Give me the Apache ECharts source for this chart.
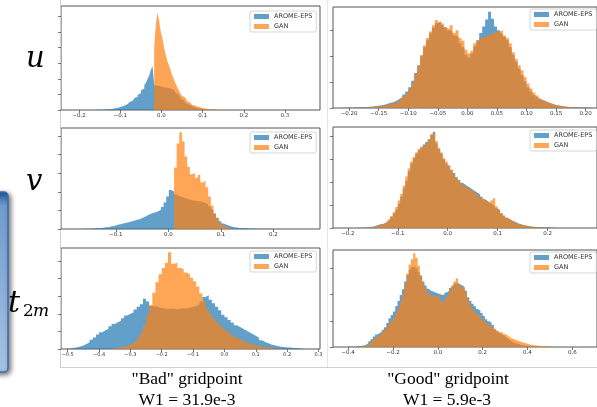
<!DOCTYPE html>
<html>
<head>
<meta charset="utf-8">
<script src="https://cdn.jsdelivr.net/npm/echarts@6/dist/echarts.min.js"></script>
<style>
  html, body { margin: 0; padding: 0; background: #fff; }
  #chart { width: 597px; height: 407px; }
</style>
</head>
<body>
<div id="chart"></div>
<script>
// histogram bins: first bin left edge, bin width, heights (in y-tick units)
// u, "bad" gridpoint
const uBadStart = -0.1615, uBadWidth = 0.004;
const uBadArome = [
  0.02,0.02,0.03,0.02,0.03,0.04,0.03,0.05,0.05,0.06,0.08,0.09,
  0.12,0.15,0.18,0.21,0.24,0.29,0.33,0.39,0.45,0.52,0.6,0.7,
  0.77,0.85,0.98,1.08,1.26,1.38,1.6,1.74,2.0,2.22,2.58,2.8,
  1.62,1.55,1.5,1.52,1.48,1.45,1.47,1.43,1.42,1.38,1.36,1.3,
  1.22,1.1,0.98,0.86,0.74,0.62,0.52,0.43,0.36,0.29,0.24,0.2,
  0.16,0.13,0.11,0.09,0.08,0.06,0.05,0.05,0.04,0.03,0.03,0.03,0.02,0.02,0.02
];
const uBadGan = [
  0,0,0,0,0,0,0,0,0,0,0,0,
  0,0,0,0,0,0,0,0,0,0,0,0,
  0,0,0,0,0,0,0,0,0,0,0,0,
  4.0,5.5,6.27,5.7,5.0,4.6,4.0,3.55,3.15,2.85,2.55,2.2,
  1.95,1.7,1.48,1.25,1.05,0.9,0.78,0.66,0.56,0.47,0.4,0.33,
  0.28,0.23,0.19,0.16,0.13,0.11,0.09,0.07,0.06,0.05,0.04,0.03,0.03,0.02,0.02
];
const uBadTicks = [-0.2, -0.1, 0.0, 0.1, 0.2, 0.3];

// u, "good" gridpoint
const uGoodStart = -0.215, uGoodWidth = 0.005;
const uGoodArome = [
  0.01,0.01,0.02,0.01,0.02,0.02,0.03,0.03,0.04,0.05,
  0.06,0.08,0.09,0.11,0.13,0.16,0.2,0.22,0.28,0.35,
  0.42,0.52,0.64,0.8,1.05,1.35,1.65,2.0,2.35,2.62,
  2.88,3.1,3.28,3.35,3.2,3.12,3.0,2.95,2.8,2.75,
  2.5,2.35,2.05,1.95,2.1,2.38,2.62,2.9,3.15,3.42,
  3.72,3.45,3.15,3.0,2.88,2.75,2.62,2.35,2.05,1.8,
  1.52,1.27,1.02,0.8,0.64,0.5,0.42,0.34,0.28,0.23,
  0.19,0.15,0.12,0.1,0.08,0.06,0.05,0.04,0.03,0.03,
  0.02,0.02,0.01,0.02,0.01,0.01
];
const uGoodGan = [
  0,0,0.01,0,0.01,0.01,0.02,0.02,0.02,0.03,
  0.04,0.05,0.07,0.08,0.1,0.12,0.15,0.18,0.22,0.28,
  0.36,0.46,0.58,0.72,0.98,1.3,1.62,2.05,2.42,2.7,
  2.95,3.2,3.4,3.3,3.25,3.1,3.05,3.2,2.9,3.0,
  2.7,2.6,2.25,2.1,2.2,2.5,2.6,2.7,2.75,2.82,
  2.85,2.88,2.95,2.95,3.0,2.8,2.7,2.5,2.15,1.9,
  1.65,1.45,1.2,0.95,0.75,0.6,0.48,0.38,0.3,0.24,
  0.19,0.15,0.11,0.09,0.07,0.05,0.04,0.03,0.02,0.02,
  0.01,0.01,0.01,0,0,0
];
const uGoodTicks = [-0.2, -0.15, -0.1, -0.05, 0.0, 0.05, 0.1, 0.15, 0.2];

// v, "bad" gridpoint
const vBadStart = -0.164, vBadWidth = 0.005;
const vBadArome = [
  0.01,0.02,0.02,0.03,0.04,0.05,0.06,0.07,0.09,0.1,
  0.13,0.16,0.2,0.24,0.27,0.31,0.34,0.38,0.42,0.46,
  0.5,0.53,0.6,0.66,0.74,0.8,0.86,0.9,0.96,1.04,
  1.18,1.42,1.75,2.1,2.0,1.85,1.78,1.72,1.68,1.62,
  1.58,1.55,1.52,1.5,1.48,1.45,1.4,1.33,1.22,1.05,
  0.82,0.6,0.42,0.3,0.23,0.17,0.13,0.1,0.08,0.06,
  0.05,0.04,0.04,0.03,0.03,0.02,0.02,0.02,0.02,0.01,
  0.01,0.01,0.01
];
const vBadGan = [
  0,0,0,0,0,0,0,0,0,0,
  0,0,0,0,0,0,0,0,0,0,
  0,0,0,0,0,0,0,0,0,0,
  0,0,0,0,0,3.3,4.6,5.2,4.7,3.9,
  3.35,2.95,3.0,2.75,2.9,2.5,2.6,2.25,1.75,1.25,
  0.85,0.55,0.34,0.2,0.11,0.06,0.03,0.02,0,0,
  0,0,0,0,0,0,0,0,0,0,
  0,0,0
];
const vBadTicks = [-0.1, 0.0, 0.1, 0.2];

// v, "good" gridpoint
const vGoodStart = -0.18, vGoodWidth = 0.005;
const vGoodArome = [
  0.01,0.01,0.02,0.03,0.05,0.06,0.09,0.13,0.16,0.18,
  0.22,0.29,0.37,0.48,0.62,0.8,1.05,1.38,1.72,2.05,
  2.48,2.82,3.05,3.25,3.4,3.52,3.65,3.75,3.88,4.05,
  4.2,3.7,3.45,3.25,3.0,2.8,2.7,2.52,2.4,2.22,
  2.1,1.98,1.9,1.82,1.76,1.68,1.6,1.54,1.46,1.36,
  1.25,1.18,1.1,1.02,0.95,0.86,0.78,0.64,0.54,0.45,
  0.38,0.32,0.27,0.22,0.18,0.14,0.12,0.1,0.08,0.06,
  0.05,0.04,0.04,0.03,0.02,0.02,0.02,0.01,0.01,0.01
];
const vGoodGan = [
  0,0.01,0.01,0.02,0.03,0.04,0.06,0.09,0.12,0.16,
  0.21,0.28,0.38,0.52,0.7,0.92,1.2,1.5,1.85,2.25,
  2.6,2.9,3.1,3.3,3.45,3.55,3.6,3.7,3.85,4.1,
  4.15,3.8,3.5,3.3,3.05,2.9,2.75,2.55,2.35,2.2,
  2.05,1.95,1.85,1.8,1.7,1.62,1.55,1.48,1.38,1.3,
  1.22,1.15,1.1,1.2,1.3,0.95,0.8,0.66,0.55,0.45,
  0.37,0.3,0.25,0.2,0.16,0.13,0.1,0.08,0.06,0.05,
  0.04,0.03,0.03,0.02,0.02,0.01,0.01,0.01,0,0
];
const vGoodTicks = [-0.2, -0.1, 0.0, 0.1, 0.2];

// t2m, "bad" gridpoint
const tBadStart = -0.5, tBadWidth = 0.01;
const tBadArome = [
  0.03,0.06,0.1,0.14,0.2,0.28,0.38,0.52,0.66,0.82,
  0.95,1.05,1.15,1.3,1.42,1.52,1.6,1.75,1.9,2.0,
  2.08,2.25,2.4,2.55,2.85,2.7,2.45,2.42,2.38,2.32,
  2.3,2.28,2.3,2.28,2.25,2.3,2.32,2.3,2.35,2.4,
  2.45,2.55,2.7,2.95,3.05,2.8,2.6,2.4,2.2,1.95,
  1.8,1.65,1.5,1.35,1.25,1.15,1.05,0.95,0.85,0.75,
  0.65,0.5,0.4,0.32,0.26,0.21,0.17,0.13,0.11,0.09,
  0.08,0.06,0.05,0.04,0.02,0.01
];
const tBadGan = [
  0,0,0,0,0,0,0,0,0,0,
  0,0,0,0.02,0.04,0.06,0.09,0.13,0.18,0.23,
  0.3,0.42,0.6,0.9,1.35,1.9,2.5,3.2,3.8,4.25,
  4.6,4.9,5.5,4.85,4.9,4.6,4.55,4.35,4.25,4.05,
  3.85,3.55,3.15,2.7,2.3,2.0,1.75,1.55,1.38,1.2,
  1.05,0.9,0.78,0.66,0.56,0.46,0.38,0.31,0.26,0.21,
  0.17,0.13,0.1,0.07,0.05,0.03,0.02,0.01,0,0,
  0,0,0,0,0,0
];
const tBadTicks = [-0.5, -0.4, -0.3, -0.2, -0.1, 0.0, 0.1, 0.2, 0.3];

// t2m, "good" gridpoint
const tGoodStart = -0.4, tGoodWidth = 0.01;
const tGoodArome = [
  0.01,0.01,0.02,0.02,0.03,0.05,0.06,0.09,0.14,0.22,
  0.3,0.4,0.48,0.52,0.58,0.66,0.75,0.92,1.1,1.22,
  1.35,1.55,1.75,1.98,2.2,2.5,2.75,2.95,3.05,3.08,
  3.0,2.85,2.7,2.5,2.35,2.22,2.15,2.12,2.08,2.04,
  2.02,1.98,2.0,2.08,2.15,2.25,2.33,2.42,2.45,2.38,
  2.35,2.28,2.15,1.9,1.75,1.65,1.55,1.45,1.38,1.3,
  1.18,1.06,0.98,0.92,0.84,0.68,0.6,0.52,0.46,0.4,
  0.34,0.27,0.22,0.17,0.13,0.11,0.09,0.07,0.06,0.04,
  0.04,0.03,0.03,0.02,0.02,0.01,0.01,0.01,0.01,0,
  0,0
];
const tGoodGan = [
  0,0,0.01,0.01,0.02,0.03,0.04,0.06,0.1,0.16,
  0.22,0.3,0.38,0.45,0.52,0.6,0.68,0.78,0.9,1.02,
  1.12,1.3,1.48,1.72,2.0,2.4,2.8,3.15,3.35,3.58,
  3.4,3.1,2.75,2.45,2.25,2.05,1.98,1.95,1.92,1.95,
  1.98,1.75,1.72,1.85,2.0,2.2,2.35,2.5,2.62,2.35,
  2.3,2.25,2.1,1.85,1.6,1.45,1.35,1.25,1.2,1.1,
  1.02,0.92,0.85,0.78,0.72,0.65,0.6,0.55,0.58,0.5,
  0.45,0.38,0.33,0.3,0.27,0.23,0.2,0.17,0.15,0.12,
  0.1,0.09,0.07,0.06,0.05,0.04,0.04,0.03,0.03,0.02,
  0.01,0.01
];
const tGoodTicks = [-0.4, -0.2, 0.0, 0.2, 0.4, 0.6];

const seriesNames = ['AROME-EPS', 'GAN'];
const BLUE = '#1f77b4';
const ORANGE = '#ff7f0e';

// layout of each panel: plot box [left, top, width, height], x range, y max
const panels = [
  { start: uBadStart, width: uBadWidth, arome: uBadArome, gan: uBadGan, ticks: uBadTicks, dec: 1,
    yTicks: [0,1,2,3,4,5,6], box: [61, 6, 259, 104], xMin: -0.2437, xMax: 0.385, yMax: 6.67, legend: [250, 11] },
  { start: uGoodStart, width: uGoodWidth, arome: uGoodArome, gan: uGoodGan, ticks: uGoodTicks, dec: 2,
    yTicks: [0,1,2,3], box: [333, 7, 267, 101], xMin: -0.2273, xMax: 0.2192, yMax: 3.9, legend: [530, 9] },
  { start: vBadStart, width: vBadWidth, arome: vBadArome, gan: vBadGan, ticks: vBadTicks, dec: 1,
    yTicks: [0,1,2,3,4,5], box: [61, 128, 259, 101], xMin: -0.2044, xMax: 0.289, yMax: 5.43, legend: [250, 132] },
  { start: vGoodStart, width: vGoodWidth, arome: vGoodArome, gan: vGoodGan, ticks: vGoodTicks, dec: 1,
    yTicks: [0,1,2,3,4], box: [333, 127, 267, 101], xMin: -0.2297, xMax: 0.299, yMax: 4.41, legend: [530, 130] },
  { start: tBadStart, width: tBadWidth, arome: tBadArome, gan: tBadGan, ticks: tBadTicks, dec: 1,
    yTicks: [0,1,2,3,4,5], box: [61, 248, 259, 101], xMin: -0.5214, xMax: 0.305, yMax: 5.74, legend: [250, 251] },
  { start: tGoodStart, width: tGoodWidth, arome: tGoodArome, gan: tGoodGan, ticks: tGoodTicks, dec: 1,
    yTicks: [0,1,2,3], box: [333, 250, 267, 97], xMin: -0.4675, xMax: 0.71, yMax: 3.7, legend: [530, 252] }
];

function toSteps(start, width, values) {
  const pts = values.map((v, i) => [start + i * width, v]);
  pts.push([start + values.length * width, 0]);
  return pts;
}

function tickFormatter(dec) {
  return function (v) {
    const s = Math.abs(v).toFixed(dec);
    return (v < -1e-9 ? '\u2212' : '') + s;
  };
}

const grid = [], xAxis = [], yAxis = [], series = [], legend = [];
panels.forEach(function (p, k) {
  grid.push({
    left: p.box[0], top: p.box[1], width: p.box[2], height: p.box[3],
    show: true, borderColor: '#555', borderWidth: 1, backgroundColor: 'transparent'
  });
  xAxis.push({
    gridIndex: k, type: 'value', min: p.xMin, max: p.xMax, position: 'bottom',
    axisLine: { show: false, onZero: false }, splitLine: { show: false },
    axisTick: { customValues: p.ticks, length: 3, lineStyle: { color: '#555', width: 0.8 } },
    axisLabel: {
      customValues: p.ticks, formatter: tickFormatter(p.dec),
      fontSize: k === 4 ? 5 : 5.5, color: '#333', margin: 3, fontFamily: 'DejaVu Sans'
    }
  });
  yAxis.push({
    gridIndex: k, type: 'value', min: 0, max: p.yMax, position: 'left',
    axisLine: { show: false, onZero: false }, splitLine: { show: false },
    axisTick: { show: true, customValues: p.yTicks, length: 3, lineStyle: { color: '#555', width: 0.8 } },
    axisLabel: { show: false, customValues: p.yTicks }
  });
  [[seriesNames[0], p.arome, BLUE], [seriesNames[1], p.gan, ORANGE]].forEach(function (s) {
    series.push({
      type: 'line', name: s[0], xAxisIndex: k, yAxisIndex: k,
      step: 'end', symbol: 'none', silent: true,
      lineStyle: { width: 0, opacity: 0 },
      itemStyle: { color: s[2] },
      areaStyle: { color: s[2], opacity: 0.7 },
      data: toSteps(p.start, p.width, s[1])
    });
  });
  legend.push({
    left: p.legend[0], top: p.legend[1], orient: 'vertical',
    icon: 'rect', itemWidth: 15, itemHeight: 5, itemGap: 3,
    padding: [2, 4, 2, 4], selectedMode: false,
    backgroundColor: 'rgba(255,255,255,0.8)', borderColor: '#ccc', borderWidth: 0.8, borderRadius: 2,
    textStyle: { fontSize: 6.5, color: '#333', fontFamily: 'DejaVu Sans' },
    itemStyle: { borderWidth: 0 },
    data: [
      { name: seriesNames[0], itemStyle: { color: 'rgba(31,119,180,0.7)' } },
      { name: seriesNames[1], itemStyle: { color: 'rgba(255,127,14,0.7)' } }
    ]
  });
});

const chart = echarts.init(document.getElementById('chart'));
chart.setOption({
  backgroundColor: '#fff',
  animation: false,
  grid: grid,
  xAxis: xAxis,
  yAxis: yAxis,
  legend: legend,
  series: series,
  graphic: [
    // frames of the two figure images
    { type: 'line', shape: { x1: 60.5, y1: 0, x2: 60.5, y2: 367 }, style: { stroke: '#cfcfcf', lineWidth: 1 }, silent: true },
    { type: 'line', shape: { x1: 327.5, y1: 0, x2: 327.5, y2: 367 }, style: { stroke: '#e6e6e6', lineWidth: 1 }, silent: true },
    { type: 'line', shape: { x1: 60, y1: 367.5, x2: 597, y2: 367.5 }, style: { stroke: '#cfcfcf', lineWidth: 1 }, silent: true },
    // slide box peeking in at the left
    { type: 'rect', shape: { x: -12, y: 192, width: 20, height: 180, r: 4 },
      style: {
        fill: { type: 'linear', x: 0, y: 0, x2: 0, y2: 1, colorStops: [
          { offset: 0, color: '#1f5ea6' }, { offset: 0.08, color: '#6f9bcf' }, { offset: 1, color: '#a8c3e2' }] },
        stroke: '#3a6eae', lineWidth: 1.5,
        shadowBlur: 5, shadowColor: 'rgba(0,0,0,0.55)', shadowOffsetX: 2, shadowOffsetY: 2
      }, silent: true },
    // row labels
    { type: 'text', style: { x: 26, y: 59, text: 'u', font: 'italic 29px DejaVu Serif', fill: '#000', verticalAlign: 'middle' }, silent: true },
    { type: 'text', style: { x: 26, y: 182, text: 'v', font: 'italic 29px DejaVu Serif', fill: '#000', verticalAlign: 'middle' }, silent: true },
    { type: 'text', style: { x: 8, y: 304, text: 't', font: 'italic 30px DejaVu Serif', fill: '#000', verticalAlign: 'middle' }, silent: true },
    { type: 'text', style: { x: 23, y: 312, text: '2', font: '17px DejaVu Serif', fill: '#000', verticalAlign: 'middle' }, silent: true },
    { type: 'text', style: { x: 33, y: 312, text: 'm', font: 'italic 17px DejaVu Serif', fill: '#000', verticalAlign: 'middle' }, silent: true },
    // captions
    { type: 'text', style: { x: 187, y: 379, text: '"Bad" gridpoint', font: '17.5px Liberation Serif', fill: '#000', align: 'center', verticalAlign: 'middle' }, silent: true },
    { type: 'text', style: { x: 187, y: 400, text: 'W1 = 31.9e-3', font: '17.5px Liberation Serif', fill: '#000', align: 'center', verticalAlign: 'middle' }, silent: true },
    { type: 'text', style: { x: 448, y: 379, text: '"Good" gridpoint', font: '17.5px Liberation Serif', fill: '#000', align: 'center', verticalAlign: 'middle' }, silent: true },
    { type: 'text', style: { x: 447, y: 400, text: 'W1 = 5.9e-3', font: '17.5px Liberation Serif', fill: '#000', align: 'center', verticalAlign: 'middle' }, silent: true }
  ]
});
</script>
</body>
</html>
